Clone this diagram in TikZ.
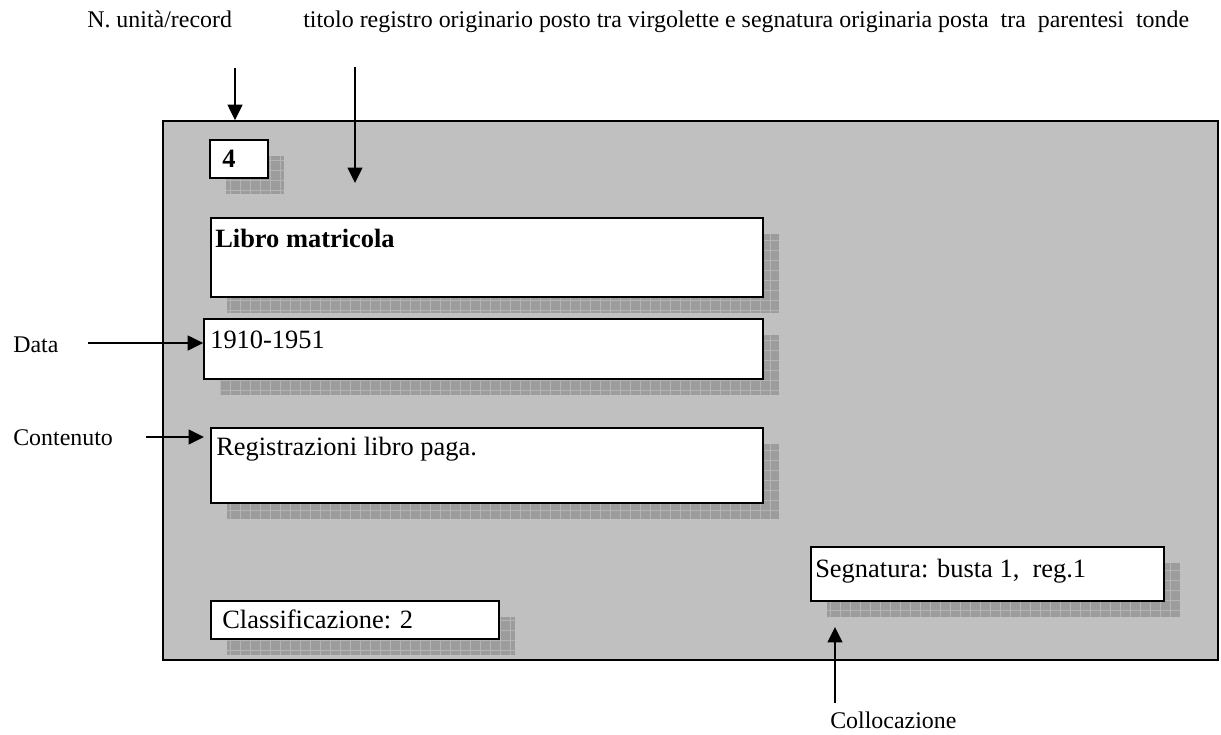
\documentclass[tikz,border=0pt]{standalone}
\usepackage{fontspec}
\setmainfont{Liberation Serif}
\usepackage{tikz}
\usetikzlibrary{positioning}
\usetikzlibrary{fit}
\usetikzlibrary{arrows.meta}
\usepackage{xcolor}
\definecolor{panelgray}{HTML}{C0C0C0}
\definecolor{shadowgray}{HTML}{9C9C9C}
\definecolor{gridgray}{HTML}{B4B4B4}
\tikzset{
  field/.style={draw=black, fill=white, line width=1.2pt, inner sep=0pt},
  boxtext/.style={anchor=base west, inner sep=0pt, font=\fontsize{18.8}{22}\selectfont},
  toptext/.style={anchor=base west, inner sep=0pt, font=\fontsize{17}{20}\selectfont},
  sidetext/.style={anchor=base west, inner sep=0pt, font=\fontsize{17}{20}\selectfont},
  arr/.style={line width=1.4pt, -{Triangle[length=11pt, width=10.5pt]}}
}
% shadow + white field: name, x1, y1, x2, y2
\newcommand\fieldbox[5]{
  \fill[shadowgray] (#2+16,#3+16) rectangle (#4+16,#5+16);
  \draw[gridgray, line width=0.3pt, step=0.25cm] (#2+16,#3+16) grid (#4+16,#5+16);
  \node[field, fit={(#2,#3) (#4,#5)}] (#1) {};
}

\begin{document}
\begin{tikzpicture}[x=0.025cm, y=-0.025cm]
  \useasboundingbox (0,0) rectangle (1221,735);
  \node[draw=black, fill=panelgray, line width=1.2pt, inner sep=0pt, fit={(163,121) (1218,660)}] (card) {};

  \fieldbox{numbox}{210}{140}{268}{178}
  \fieldbox{titlebox}{211}{218}{763}{297}
  \fieldbox{datebox}{204}{319}{763}{379}
  \fieldbox{contentbox}{211}{428}{763}{503}
  \fieldbox{classbox}{211}{601}{499}{639}
  \fieldbox{signbox}{811}{547}{1164}{601}

  \node[boxtext] (num) at (222,168) {\bfseries 4};
  \node[boxtext] (title) at (215,247) {\bfseries Libro matricola};
  \node[boxtext] (date) at (210,348) {1910-1951};
  \node[boxtext] (content) at (216,455) {Registrazioni libro paga.};
  \node[boxtext] (class) at (222,628) {Classificazione: 2};
  \node[boxtext] (sign) at (815,577) {Segnatura: busta 1,~ reg.1};

  \node[toptext] (numlabel) at (87,28) {N. unità/record};
  \node[toptext] (titlelabel) at (303,28) {titolo registro originario posto tra virgolette e segnatura originaria posta~ tra~ parentesi~ tonde};
  \node[sidetext] (datelabel) at (13,352) {Data};
  \node[sidetext] (contentlabel) at (13,445) {Contenuto};
  \node[sidetext] (placelabel) at (830,728) {Collocazione};

  \coordinate (numfrom) at (235,68);
  \coordinate (titlefrom) at (355,67);
  \coordinate (titleto) at (355,183);
  \coordinate (datefrom) at (88,343);
  \coordinate (contentfrom) at (146,437);
  \coordinate (contentto) at (204,437);
  \coordinate (placefrom) at (835,703);
  \coordinate (placeto) at (835,627);

  \draw[arr] (numfrom) -- (numfrom |- card.north);
  \draw[arr] (titlefrom) -- (titleto);
  \draw[arr] (datefrom) -- (datefrom -| datebox.west);
  \draw[arr] (contentfrom) -- (contentto);
  \draw[arr] (placefrom) -- (placeto);
\end{tikzpicture}
\end{document}
